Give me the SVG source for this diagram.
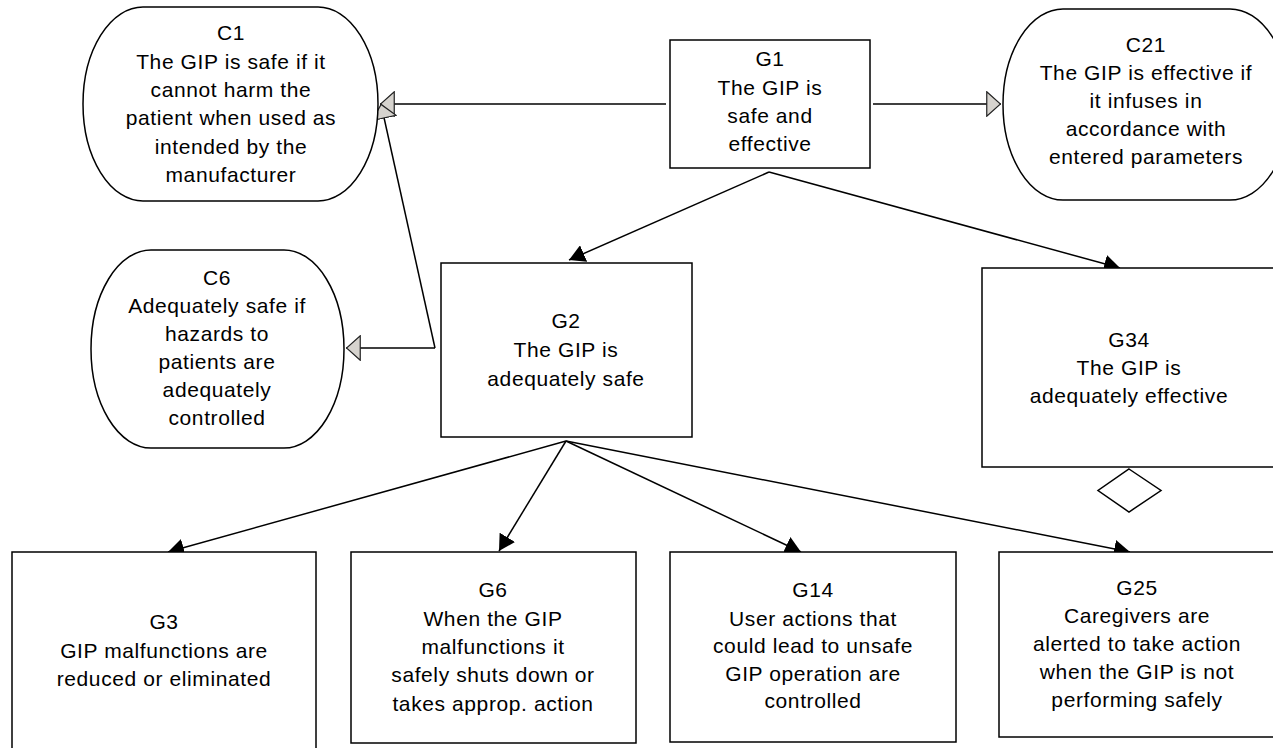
<svg xmlns="http://www.w3.org/2000/svg" width="1273" height="748" viewBox="0 0 1273 748">
<style>
.box{fill:#fff;stroke:#000;stroke-width:1.5}
.lbl{font-family:"Liberation Sans",Arial,sans-serif;font-size:21px;fill:#000;text-anchor:middle;letter-spacing:0.6px}
.ln{fill:none;stroke:#000;stroke-width:1.5}
</style>
<defs>
<marker id="filled" viewBox="0 0 16 18" refX="16" refY="9" markerWidth="16" markerHeight="18" markerUnits="userSpaceOnUse" orient="auto"><path d="M0,0 L16,9 L0,18 Z" fill="#000"/></marker>
<marker id="hollow" viewBox="0 0 15 26" refX="15" refY="13" markerWidth="15" markerHeight="26" markerUnits="userSpaceOnUse" orient="auto"><path d="M0.75,0.75 L14.5,13 L0.75,25.25 Z" fill="#d6d3ce" stroke="#222" stroke-width="1.2"/></marker>
</defs>
<rect width="1273" height="748" fill="#fff"/>
<g id="connectors">
<line class="ln" x1="666" y1="104" x2="380" y2="104" marker-end="url(#hollow)"/>
<line class="ln" x1="873" y1="104" x2="1001" y2="104" marker-end="url(#hollow)"/>
<line class="ln" x1="435" y1="348" x2="346" y2="348" marker-end="url(#hollow)"/>
<line class="ln" x1="435" y1="348" x2="381" y2="104" marker-end="url(#hollow)"/>
<line class="ln" x1="769" y1="172" x2="569" y2="260" marker-end="url(#filled)"/>
<line class="ln" x1="769" y1="172" x2="1120" y2="268" marker-end="url(#filled)"/>
<line class="ln" x1="566" y1="441" x2="168" y2="552" marker-end="url(#filled)"/>
<line class="ln" x1="566" y1="441" x2="499" y2="551" marker-end="url(#filled)"/>
<line class="ln" x1="566" y1="441" x2="801" y2="552" marker-end="url(#filled)"/>
<line class="ln" x1="566" y1="441" x2="1130" y2="552" marker-end="url(#filled)"/>
</g>
<g id="C1">
<rect class="box" x="83" y="7" width="295" height="194" rx="60" ry="97"/>
<text class="lbl"><tspan x="231" y="40">C1</tspan><tspan x="231" y="68.5">The GIP is safe if it</tspan><tspan x="231" y="97">cannot harm the</tspan><tspan x="231" y="125">patient when used as</tspan><tspan x="231" y="153.5">intended by the</tspan><tspan x="231" y="182">manufacturer</tspan></text>
</g>
<g id="G1">
<rect class="box" x="670" y="40" width="200" height="128"/>
<text class="lbl"><tspan x="770" y="66">G1</tspan><tspan x="770" y="95">The GIP is</tspan><tspan x="770" y="123">safe and</tspan><tspan x="770" y="151">effective</tspan></text>
</g>
<g id="C21">
<rect class="box" x="1003" y="9" width="287" height="191" rx="60" ry="95.5"/>
<text class="lbl"><tspan x="1146" y="52">C21</tspan><tspan x="1146" y="80">The GIP is effective if</tspan><tspan x="1146" y="108">it infuses in</tspan><tspan x="1146" y="136">accordance with</tspan><tspan x="1146" y="164">entered parameters</tspan></text>
</g>
<g id="C6">
<rect class="box" x="91" y="250" width="253" height="198" rx="60" ry="99"/>
<text class="lbl"><tspan x="217" y="285">C6</tspan><tspan x="217" y="313">Adequately safe if</tspan><tspan x="217" y="341">hazards to</tspan><tspan x="217" y="369">patients are</tspan><tspan x="217" y="397">adequately</tspan><tspan x="217" y="425">controlled</tspan></text>
</g>
<g id="G2">
<rect class="box" x="441" y="263" width="251" height="174"/>
<text class="lbl"><tspan x="566" y="328">G2</tspan><tspan x="566" y="357">The GIP is</tspan><tspan x="566" y="386">adequately safe</tspan></text>
</g>
<g id="G34">
<rect class="box" x="982" y="268" width="296" height="199"/>
<text class="lbl"><tspan x="1129" y="347">G34</tspan><tspan x="1129" y="375">The GIP is</tspan><tspan x="1129" y="403">adequately effective</tspan></text>
<path class="box" d="M1129,469 L1161,490.5 L1129,512 L1098,490.5 Z"/>
</g>
<g id="G3">
<rect class="box" x="12" y="552" width="304" height="210"/>
<text class="lbl"><tspan x="164" y="629">G3</tspan><tspan x="164" y="658">GIP malfunctions are</tspan><tspan x="164" y="686">reduced or eliminated</tspan></text>
</g>
<g id="G6">
<rect class="box" x="351" y="552" width="285" height="191"/>
<text class="lbl"><tspan x="493" y="597">G6</tspan><tspan x="493" y="626">When the GIP</tspan><tspan x="493" y="654">malfunctions it</tspan><tspan x="493" y="682">safely shuts down or</tspan><tspan x="493" y="711">takes approp. action</tspan></text>
</g>
<g id="G14">
<rect class="box" x="670" y="552" width="286" height="190"/>
<text class="lbl"><tspan x="813" y="597">G14</tspan><tspan x="813" y="626">User actions that</tspan><tspan x="813" y="653">could lead to unsafe</tspan><tspan x="813" y="681">GIP operation are</tspan><tspan x="813" y="708">controlled</tspan></text>
</g>
<g id="G25">
<rect class="box" x="999" y="552" width="278" height="185"/>
<text class="lbl"><tspan x="1137" y="595">G25</tspan><tspan x="1137" y="623">Caregivers are</tspan><tspan x="1137" y="651">alerted to take action</tspan><tspan x="1137" y="679">when the GIP is not</tspan><tspan x="1137" y="707">performing safely</tspan></text>
</g>
</svg>
